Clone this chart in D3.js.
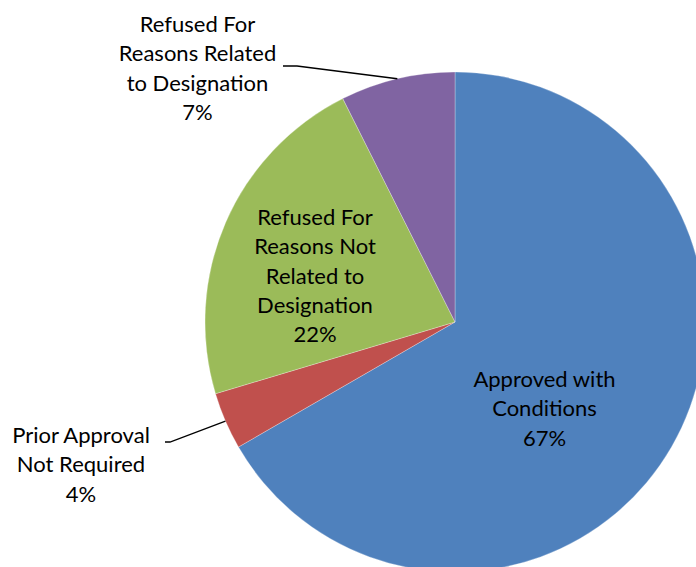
<!DOCTYPE html>
<html>
<head>
<meta charset="utf-8">
<script src="https://cdn.jsdelivr.net/npm/d3@7"></script>
<style>
  html, body { margin: 0; padding: 0; background: #fff; }
  svg { display: block; }
  text { font-family: Lato, "Liberation Sans", sans-serif; font-size: 22px; fill: #000; }
</style>
</head>
<body>
<svg id="chart" width="696" height="567"></svg>
<script>
// Outcome of applications (number of cases)
const categories = [
  "Approved with Conditions",
  "Prior Approval Not Required",
  "Refused For Reasons Not Related to Designation",
  "Refused For Reasons Related to Designation"
];
const counts = [18, 1, 6, 2];
const colors = ["#4F81BD", "#C0504D", "#9BBB59", "#8064A2"];

// Label text broken into lines
const labelLines = [
  ["Approved with", "Conditions"],
  ["Prior Approval", "Not Required"],
  ["Refused For", "Reasons Not", "Related to", "Designation"],
  ["Refused For", "Reasons Related", "to Designation"]
];

const width = 696, height = 567;
const cx = 455, cy = 322, radius = 250;
const lineHeight = 29.3;

const svg = d3.select("#chart");
const g = svg.append("g").attr("transform", `translate(${cx},${cy})`);

const data = categories.map((c, i) => ({ name: c, value: counts[i], color: colors[i], lines: labelLines[i] }));
const total = d3.sum(counts);
const pct = d3.format(".0%");

const pie = d3.pie().value(d => d.value).sort(null);
const arc = d3.arc().innerRadius(0).outerRadius(radius);
const edgeArc = d3.arc().innerRadius(radius).outerRadius(radius);

const arcs = pie(data);

g.selectAll("path.slice")
  .data(arcs)
  .join("path")
  .attr("class", "slice")
  .attr("d", arc)
  .attr("fill", d => d.data.color)
  .attr("stroke", "#ffffff")
  .attr("stroke-opacity", 0.35)
  .attr("stroke-width", 0.8);

// Label placement: centre x and first baseline (chart coordinates), plus leader elbow for outside labels
const labelLayout = [
  { x: 544.5, y: 387 },
  { x: 81, y: 443, elbow: [[170, 442], [165, 442]] },
  { x: 315, y: 225 },
  { x: 197.5, y: 32, elbow: [[297, 66], [283, 66]] }
];

const labels = svg.append("g");

arcs.forEach((a, i) => {
  const lay = labelLayout[i];
  const lines = a.data.lines.concat([pct(a.data.value / total)]);
  const t = labels.append("text").attr("text-anchor", "middle");
  lines.forEach((ln, k) => {
    t.append("tspan")
      .attr("x", lay.x)
      .attr("y", lay.y + k * lineHeight)
      .text(ln);
  });
  if (lay.elbow) {
    const [ex, ey] = edgeArc.centroid(a);
    const pts = [[cx + ex, cy + ey]].concat(lay.elbow);
    labels.append("path")
      .attr("d", d3.line()(pts))
      .attr("fill", "none")
      .attr("stroke", "#000")
      .attr("stroke-width", 1.3);
  }
});
</script>
</body>
</html>
